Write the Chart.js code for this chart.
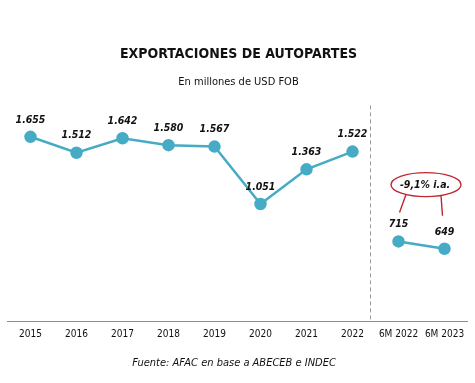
<!DOCTYPE html>
<html>
<head>
<meta charset="utf-8">
<script src="https://cdn.jsdelivr.net/npm/chart.js@4/dist/chart.umd.min.js"></script>
<style>
  html, body { margin: 0; padding: 0; background: #ffffff; }
  #wrap { width: 475px; height: 383px; position: relative; }
</style>
</head>
<body>
<div id="wrap"><canvas id="c" width="475" height="383"></canvas></div>
<script>
// ---- Data ----
const categories = ['2015', '2016', '2017', '2018', '2019', '2020', '2021', '2022', '6M 2022', '6M 2023'];
const annualValues = [1655, 1512, 1642, 1580, 1567, 1051, 1363, 1522, null, null];
const semesterValues = [null, null, null, null, null, null, null, null, 715, 649];
const changeLabel = '-9,1% i.a.';
const titleText = 'EXPORTACIONES DE AUTOPARTES';
const subtitleText = 'En millones de USD FOB';
const sourceText = 'Fuente: AFAC en base a ABECEB e INDEC';

// ---- Styles ----
const LINE = '#46abc5';
const RED = '#c0272f';
const FONT = '"DejaVu Sans Condensed", "DejaVu Sans", sans-serif';

function fmt(v) {
  return String(v).replace(/\B(?=(\d{3})+(?!\d))/g, '.');
}

const overlayPlugin = {
  id: 'overlay',
  afterDatasetsDraw(chart) {
    const ctx = chart.ctx;
    const xs = chart.scales.x, ys = chart.scales.y;
    const area = chart.chartArea;

    // separator dashed line between annual and semester data
    const x7 = xs.getPixelForValue(7), x8 = xs.getPixelForValue(8);
    const sepX = Math.round(x7 + (x8 - x7) * 0.38) + 0.5;
    ctx.save();
    ctx.strokeStyle = '#9a9a9a';
    ctx.lineWidth = 1;
    ctx.setLineDash([4, 3]);
    ctx.beginPath();
    ctx.moveTo(sepX, area.top + 7);
    ctx.lineTo(sepX, area.bottom);
    ctx.stroke();
    ctx.restore();

    // data labels
    ctx.save();
    ctx.font = 'italic bold 10.5px ' + FONT;
    ctx.fillStyle = '#111';
    ctx.textAlign = 'center';
    ctx.textBaseline = 'middle';
    chart.data.datasets.forEach((ds, di) => {
      const meta = chart.getDatasetMeta(di);
      meta.data.forEach((pt, i) => {
        const v = ds.data[i];
        if (v === null || v === undefined) return;
        ctx.fillText(fmt(v), pt.x, pt.y - 17);
      });
    });
    ctx.restore();

    // annotation ellipse with the year-on-year change
    const m = chart.getDatasetMeta(1);
    const p8 = m.data[8], p9 = m.data[9];
    const cx = (p8.x + p9.x) / 2 + 4.5;
    const cy = ys.getPixelForValue(1225);
    const rx = 35, ry = 12;
    ctx.save();
    ctx.strokeStyle = RED;
    ctx.lineWidth = 1.4;
    ctx.beginPath();
    ctx.ellipse(cx, cy, rx, ry, 0, 0, Math.PI * 2);
    ctx.stroke();
    ctx.beginPath();
    ctx.moveTo(cx - 20, cy + ry * 0.82);
    ctx.lineTo(p8.x + 1, p8.y - 29);
    ctx.moveTo(cx + 15, cy + ry * 0.9);
    ctx.lineTo(p9.x - 2, p9.y - 33);
    ctx.stroke();
    ctx.font = 'italic bold 10.5px ' + FONT;
    ctx.fillStyle = '#111';
    ctx.textAlign = 'center';
    ctx.textBaseline = 'middle';
    ctx.fillText(changeLabel, cx - 1, cy + 1);
    ctx.restore();

    // source note
    ctx.save();
    ctx.font = 'italic 11px ' + FONT;
    ctx.fillStyle = '#111';
    ctx.textAlign = 'center';
    ctx.textBaseline = 'middle';
    ctx.fillText(sourceText, 234, 363);
    ctx.restore();
  }
};

new Chart(document.getElementById('c'), {
  type: 'line',
  data: {
    labels: categories,
    datasets: [
      {
        data: annualValues,
        borderColor: LINE,
        backgroundColor: LINE,
        pointBackgroundColor: LINE,
        pointBorderColor: LINE,
        borderWidth: 2.5,
        pointRadius: 5,
        pointHoverRadius: 5,
        tension: 0,
        spanGaps: false
      },
      {
        data: semesterValues,
        borderColor: LINE,
        backgroundColor: LINE,
        pointBackgroundColor: LINE,
        pointBorderColor: LINE,
        borderWidth: 2.5,
        pointRadius: 5,
        pointHoverRadius: 5,
        tension: 0,
        spanGaps: false
      }
    ]
  },
  options: {
    responsive: false,
    animation: false,
    devicePixelRatio: 1,
    layout: { padding: { left: 7, right: 5, top: 0, bottom: 32 } },
    plugins: {
      legend: { display: false },
      tooltip: { enabled: false },
      title: {
        display: true,
        text: titleText,
        color: '#111',
        font: { family: FONT, size: 14, weight: 'bold' },
        padding: { top: 46, bottom: 12.6 }
      },
      subtitle: {
        display: true,
        text: subtitleText,
        color: '#111',
        font: { family: FONT, size: 11, weight: 'normal' },
        padding: { top: 0, bottom: 9.8 }
      }
    },
    scales: {
      x: {
        type: 'category',
        offset: true,
        grid: { display: false, drawTicks: false },
        border: { display: true, color: '#8c8c8c', width: 1 },
        ticks: {
          color: '#111',
          font: { family: FONT, size: 10 },
          padding: 7,
          maxRotation: 0,
          autoSkip: false
        },
        afterFit(s) { s.height = 30; }
      },
      y: {
        display: false,
        min: 0,
        max: 2000
      }
    }
  },
  plugins: [overlayPlugin]
});
</script>
</body>
</html>
